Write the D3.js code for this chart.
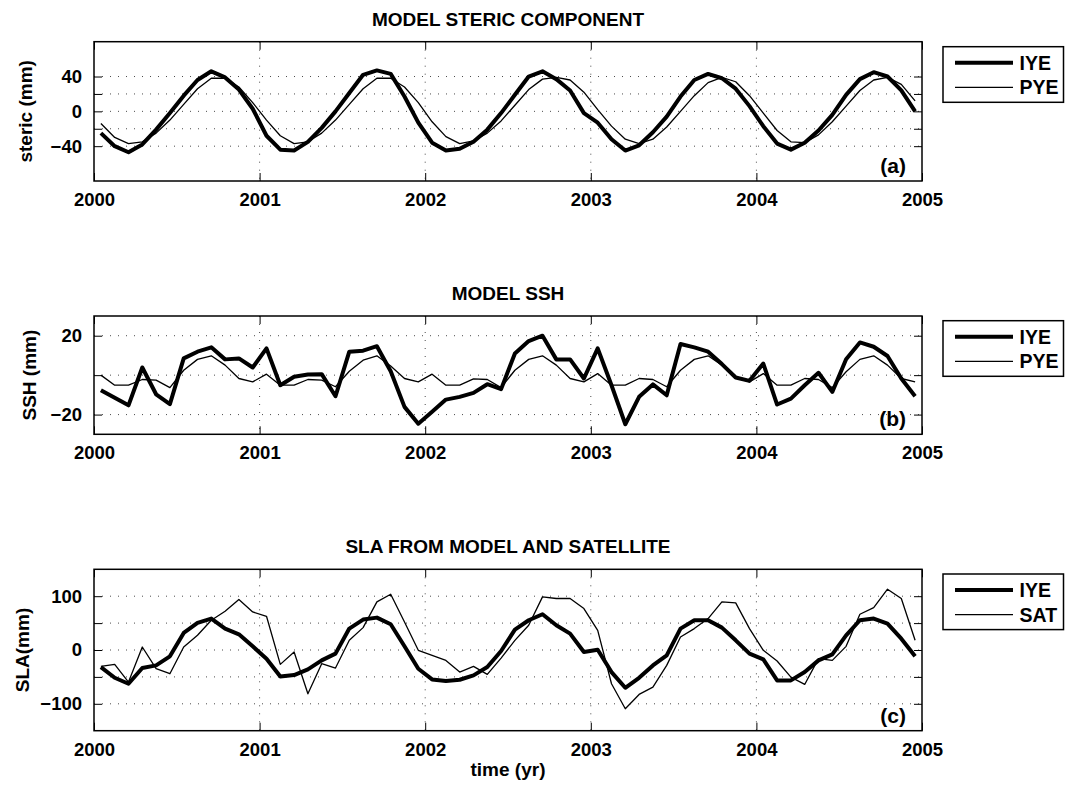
<!DOCTYPE html>
<html><head><meta charset="utf-8">
<script src="https://cdn.jsdelivr.net/npm/d3@7"></script>
<style>
body{margin:0;background:#fff}
svg text{font-family:"Liberation Sans",Arial,Helvetica,sans-serif;font-weight:bold;fill:#000}
.tick text{font-size:18.5px}
</style>
</head><body>
<svg id="chart" width="1065" height="785"></svg>
<script>
// ---------------- DATA ----------------
const startYear = 2000;
const nMonths = 60;
const yearTicks = [2000, 2001, 2002, 2003, 2004, 2005];
const yearTickLabels = ["2000", "2001", "2002", "2003", "2004", "2005"];

const stericIYE = [-25,-40,-47,-38,-21,-2,18,36,46,39,25,3,
  -28,-44,-45,-35,-19,0,21,42,47,43,17,-13,
  -36,-45,-43,-35,-21,-2,19,40,46,37,24,-2,
  -13,-32,-45,-39,-24,-6,17,36,43,38,26,6,
  -17,-37,-44,-36,-22,-4,19,37,45,40,24,0];
const stericPYE = [-14,-30,-37,-35,-25,-10,8,26,38,38,28,10,
  -10,-28,-37,-35,-25,-10,8,26,38,38,28,10,
  -12,-29,-37,-34,-25,-11,7,25,37,39,36,22,
  2,-17,-32,-37,-32,-18,0,18,33,39,34,18,
  -2,-22,-35,-36,-27,-12,6,24,36,39,31,12];

const sshIYE = [-7.6,-11.5,-15.3,3.9,-9.7,-14.7,8.5,11.9,14.1,8,8.5,3.9,
  13.6,-5.1,-0.8,0.3,0.5,-10.7,11.9,12.4,14.7,2,-16.1,-24.6,
  -18.6,-12.4,-11,-9,-4.6,-7.1,11,17.3,20,8,8,-1.7,
  13.6,-5.1,-24.9,-11,-4.7,-10.2,15.8,14.1,11.9,5.6,-1.2,-2.9,
  5.9,-14.9,-11.9,-5.1,1.2,-8.5,8.1,16.6,14.4,9.7,-1.7,-10.7];
const sshPYE = [0,-5.1,-5.1,-2.2,-2.5,-6.3,2.5,8,9.8,5.1,-1.7,-3.4,
  0.5,-5.1,-5.1,-2.2,-2.5,-5.9,2,7.6,9.8,4.6,-1.7,-3.4,
  0.5,-5.1,-5.1,-1.9,-2.2,-6.3,2.5,8,9.8,5.1,-1.7,-3.4,
  0.8,-5.1,-5.1,-1.7,-2.2,-5.9,2.5,8,9.8,5.1,-1.2,-3.4,
  0.8,-5.1,-5.1,-1.7,-2.2,-6.3,1.7,8,9.8,5.1,-1.7,-3.4];

const slaIYE = [-31.7,-51.6,-62.7,-33.5,-28.6,-11.8,31.7,50.3,58.4,39.8,29.2,6.8,
  -16.1,-49.1,-46.6,-36,-19.3,-6.8,39.8,56.5,60.2,47.8,7,-34.8,
  -54.7,-57.8,-55.3,-47.2,-31.7,-1.9,37.9,55.3,66.5,46,30.4,-3.7,
  0.6,-41,-70.2,-51.6,-28.6,-9.9,39.8,55.3,55.3,41.6,18,-6.8,
  -17.4,-56.5,-56.5,-41,-19.3,-8.1,27.3,55.3,58.4,49.1,21.1,-11.8];
const slaSAT = [-30.4,-26.7,-59.6,5.6,-34.8,-44.1,5.6,27.3,55.3,72,93.8,70.8,
  62.7,-26.7,-3.7,-81.4,-25.5,-33.5,18,41.6,89.4,103.7,52.2,-0.6,
  -9.9,-19.3,-41,-30.4,-45.3,-15,18,46,98.8,95.7,95.7,77,
  36.6,-62.7,-109.3,-82.6,-68.9,-28.6,24.2,39.8,58.4,89.4,87.6,39.8,
  -0.6,-20.5,-50.3,-64,-16.1,-19.3,6.8,66.5,78.9,113,95.7,18];

const stericTicks = [-40,-20,0,20,40];
const stericTickLabels = ["\u221240","","0","","40"];
const sshTicks = [-20,0,20];
const sshTickLabels = ["\u221220","","20"];
const slaTicks = [-100,-50,0,50,100];
const slaTickLabels = ["\u2212100","","0","","100"];

const titles = ["MODEL STERIC COMPONENT","MODEL SSH","SLA FROM MODEL AND SATELLITE"];
const yLabels = ["steric (mm)","SSH (mm)","SLA(mm)"];
const panelTags = ["(a)","(b)","(c)"];
const legendNames = [["IYE","PYE"],["IYE","PYE"],["IYE","SAT"]];
const xLabel = "time (yr)";

// time of each monthly sample (mid-month)
const time = d3.range(nMonths).map(i => startYear + (i + 0.5) / 12);

// ---------------- LAYOUT ----------------
const X0 = 94, X1 = 922;
const panels = [
  {top:41.7, bottom:181, domain:[-80,80], ticks:stericTicks, labels:stericTickLabels,
   series:[stericIYE, stericPYE], ylabX:32, legTop:46.7},
  {top:316, bottom:434.3, domain:[-30,30], ticks:sshTicks, labels:sshTickLabels,
   series:[sshIYE, sshPYE], ylabX:36, legTop:320.7},
  {top:569.3, bottom:730.7, domain:[-150,150], ticks:slaTicks, labels:slaTickLabels,
   series:[slaIYE, slaSAT], ylabX:29, legTop:574}
];
const widths = [4, 1.3];

const svg = d3.select("#chart");
svg.append("rect").attr("width",1065).attr("height",785).attr("fill","#fff");

const x = d3.scaleLinear().domain([yearTicks[0], yearTicks[yearTicks.length-1]]).range([X0, X1]);

panels.forEach((p, k) => {
  const y = d3.scaleLinear().domain(p.domain).range([p.bottom, p.top]);
  const g = svg.append("g");

  // grid
  const grid = g.append("g").attr("stroke","#000").attr("stroke-width",1)
    .attr("stroke-dasharray","1,7").attr("opacity",0.7);
  p.ticks.forEach(t => grid.append("line").attr("x1",X0).attr("x2",X1)
    .attr("y1",y(t)).attr("y2",y(t)));
  yearTicks.slice(1,-1).forEach(t => grid.append("line").attr("x1",x(t)).attr("x2",x(t))
    .attr("y1",p.top).attr("y2",p.bottom));

  // lines
  const line = d3.line().x((d,i) => x(time[i])).y(d => y(d));
  p.series.forEach((s, j) => {
    g.append("path").datum(s).attr("d", line).attr("fill","none")
      .attr("stroke","#000").attr("stroke-width",widths[j]).attr("stroke-linejoin","round");
  });

  // axes (ticks inward)
  const bottomAx = d3.axisBottom(x).tickValues(yearTicks).tickFormat((d,i)=>yearTickLabels[i])
    .tickSizeInner(-8).tickSizeOuter(0).tickPadding(12);
  const topAx = d3.axisTop(x).tickValues(yearTicks).tickFormat("").tickSizeInner(-8).tickSizeOuter(0);
  const leftAx = d3.axisLeft(y).tickValues(p.ticks).tickFormat((d,i)=>p.labels[i])
    .tickSizeInner(-8).tickSizeOuter(0).tickPadding(12);
  const rightAx = d3.axisRight(y).tickValues(p.ticks).tickFormat("").tickSizeInner(-8).tickSizeOuter(0);

  [[bottomAx,`translate(0,${p.bottom})`],[topAx,`translate(0,${p.top})`],
   [leftAx,`translate(${X0},0)`],[rightAx,`translate(${X1},0)`]].forEach(([ax,tr]) => {
    const a = g.append("g").attr("transform",tr).call(ax);
    a.attr("font-size",null).attr("font-family",null);
    a.select(".domain").remove();
    a.selectAll(".tick line").attr("stroke","#000").attr("stroke-width",1);
  });

  // box
  g.append("rect").attr("x",X0).attr("y",p.top).attr("width",X1-X0).attr("height",p.bottom-p.top)
    .attr("fill","none").attr("stroke","#000").attr("stroke-width",1.5);

  // title
  g.append("text").attr("x",(X0+X1)/2).attr("y",p.top-16).attr("text-anchor","middle")
    .style("font-size","19px").text(titles[k]);

  // y label
  g.append("text").attr("transform",`translate(${p.ylabX},${(p.top+p.bottom)/2}) rotate(-90)`)
    .attr("text-anchor","middle").style("font-size","19px").text(yLabels[k]);

  // panel tag
  g.append("text").attr("x",X1-16).attr("y",p.bottom-8).attr("text-anchor","end")
    .style("font-size","21px").text(panelTags[k]);

  // legend
  const lg = g.append("g").attr("transform",`translate(943,${p.legTop})`);
  lg.append("rect").attr("width",120.5).attr("height",55.6).attr("fill","#fff")
    .attr("stroke","#000").attr("stroke-width",1.5);
  legendNames[k].forEach((nm, j) => {
    const ry = 16 + j*24.6;
    lg.append("line").attr("x1",12).attr("x2",70).attr("y1",ry).attr("y2",ry)
      .attr("stroke","#000").attr("stroke-width",widths[j]);
    lg.append("text").attr("x",76.5).attr("y",ry+7).style("font-size","19.5px").text(nm);
  });
});

// x label
svg.append("text").attr("x",(X0+X1)/2).attr("y",776).attr("text-anchor","middle")
  .style("font-size","19px").text(xLabel);
</script>
</body></html>
